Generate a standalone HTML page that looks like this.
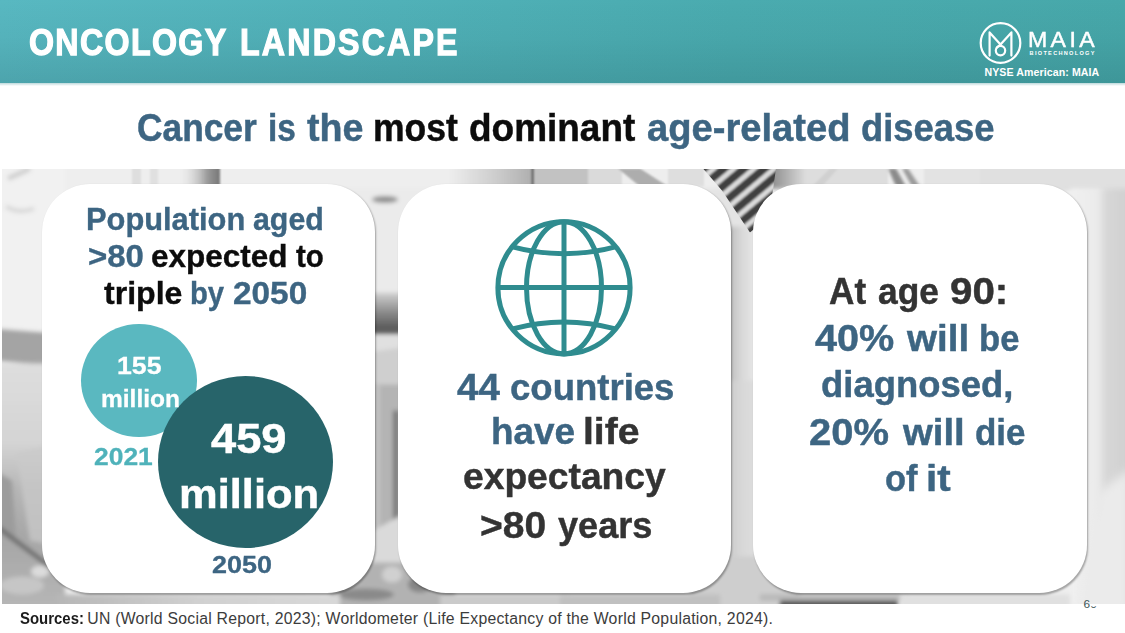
<!DOCTYPE html>
<html lang="en">
<head>
<meta charset="utf-8">
<title>Oncology Landscape</title>
<style>
html,body{margin:0;padding:0;background:#fff;}
body{width:1125px;height:633px;position:relative;overflow:hidden;font-family:"Liberation Sans",sans-serif;}
.hdr{position:absolute;left:0;top:0;width:1125px;height:82.5px;background:linear-gradient(180deg,rgba(0,30,35,0) 0%,rgba(0,30,35,.04) 45%,rgba(0,30,35,.13) 100%),linear-gradient(90deg,#58b8c1 0%,#50b1b8 35%,#4aabaf 65%,#47a8aa 100%);}
.hshadow{position:absolute;left:0;top:82.5px;width:1125px;height:3px;background:linear-gradient(180deg,rgba(90,160,165,.4),rgba(255,255,255,0));}
.photo{position:absolute;left:2px;top:168.5px;width:1123px;height:435.5px;overflow:hidden;background:#ececec;}
.card{position:absolute;top:184px;height:409px;background:#fff;border-radius:48px;box-shadow:1px 1.5px 2px rgba(0,0,0,.32);}
.t{position:absolute;white-space:nowrap;line-height:1;margin:0;}
.circ{position:absolute;border-radius:50%;}
</style>
</head>
<body>
<div class="hdr"></div>
<div class="hshadow"></div>

<div class="photo">
<svg width="1123" height="436" viewBox="2 168.5 1123 436" style="position:absolute;left:0;top:0">
<defs>
<filter id="b2" x="-20%" y="-20%" width="140%" height="140%"><feGaussianBlur stdDeviation="2"/></filter>
<filter id="b3" x="-30%" y="-30%" width="160%" height="160%"><feGaussianBlur stdDeviation="3.5"/></filter>
<filter id="b4" x="-20%" y="-20%" width="140%" height="140%"><feGaussianBlur stdDeviation="5"/></filter>
<filter id="b1" x="-20%" y="-20%" width="140%" height="140%"><feGaussianBlur stdDeviation="0.8"/></filter>
<linearGradient id="gR" x1="0" x2="1" y1="0" y2="0"><stop offset="0" stop-color="#f0f0f0"/><stop offset="0.45" stop-color="#ebebeb"/><stop offset="0.62" stop-color="#d6d6d6"/><stop offset="1" stop-color="#d0d0d0"/></linearGradient>
<linearGradient id="gM" x1="0" x2="1" y1="0" y2="0"><stop offset="0" stop-color="#b2b2b2"/><stop offset="0.5" stop-color="#d9d9d9"/><stop offset="1" stop-color="#ececec"/></linearGradient>
<linearGradient id="gL" x1="0" x2="0" y1="0" y2="1"><stop offset="0" stop-color="#dedede"/><stop offset="0.32" stop-color="#d4d4d4"/><stop offset="0.5" stop-color="#b6b6b6"/><stop offset="0.7" stop-color="#a6a6a6"/><stop offset="1" stop-color="#b8b8b8"/></linearGradient>
<linearGradient id="gT1" x1="0" x2="1" y1="0" y2="0"><stop offset="0" stop-color="#ededed"/><stop offset="0.55" stop-color="#cdcdcd"/><stop offset="1" stop-color="#aeaeae"/></linearGradient>
<linearGradient id="gT2" x1="0" x2="1" y1="0" y2="0"><stop offset="0" stop-color="#ececec" stop-opacity="0"/><stop offset="0.7" stop-color="#9a9a9a"/><stop offset="1" stop-color="#767676"/></linearGradient>
<linearGradient id="gBand" x1="0" x2="0" y1="0" y2="1"><stop offset="0" stop-color="#d2d2d2"/><stop offset="0.45" stop-color="#8e8e8e"/><stop offset="0.85" stop-color="#5a5a5a"/><stop offset="1" stop-color="#6a6a6a"/></linearGradient>
<pattern id="stripes" width="13" height="13" patternUnits="userSpaceOnUse" patternTransform="rotate(-40)"><rect width="13" height="13" fill="#404040"/><rect y="0" width="13" height="5" fill="#dcdcdc"/></pattern>
<clipPath id="tieclip"><path d="M703 168 L776 168 L772 196 L757 226 L750 232 L738 214 L722 190 Z"/></clipPath>
<linearGradient id="gB1" x1="0" x2="1" y1="0" y2="0"><stop offset="0" stop-color="#b6b6b6"/><stop offset="0.5" stop-color="#d0d0d0"/><stop offset="1" stop-color="#d8d8d8"/></linearGradient>
<linearGradient id="gT3" x1="0" x2="1" y1="0" y2="0"><stop offset="0" stop-color="#8e8e8e"/><stop offset="1" stop-color="#dddddd"/></linearGradient>
<linearGradient id="gM2" x1="0" x2="1" y1="0" y2="0"><stop offset="0" stop-color="#c6c6c6"/><stop offset="0.5" stop-color="#d8d8d8"/><stop offset="1" stop-color="#dedede"/></linearGradient>
</defs>
<rect x="0" y="160" width="1130" height="450" fill="#eeeeee"/>
<!-- left column -->
<g filter="url(#b2)">
<rect x="-5" y="160" width="70" height="170" fill="#f1f1f1"/>
<path d="M-5 328 L70 334 L70 367 L-5 360 Z" fill="#a4a4a4"/>
<rect x="-5" y="363" width="70" height="250" fill="url(#gL)"/>
<path d="M16 452 L70 440 L70 548 L30 540 Z" fill="#c9c9c9" opacity="0.75"/>
<path d="M-5 470 L12 480 L16 536 L-5 530 Z" fill="#9c9c9c"/>
<path d="M-2 527 L50 566" stroke="#707070" stroke-width="5" fill="none"/>
<ellipse cx="40" cy="571" rx="9" ry="6" fill="#dcdcdc"/>
<ellipse cx="22" cy="585" rx="22" ry="9" fill="#c6c6c6"/>
<path d="M8 178 Q22 172 30 168" stroke="#cfcfcf" stroke-width="5" fill="none"/>
<path d="M6 206 Q20 214 34 208" stroke="#d6d6d6" stroke-width="4" fill="none"/>
</g>
<!-- top strip -->
<g filter="url(#b1)">
<rect x="132" y="160" width="9" height="26" fill="#dedede"/>
<rect x="150" y="160" width="8" height="26" fill="#e0e0e0"/>
<rect x="178" y="160" width="42" height="26" fill="url(#gT2)"/>
<rect x="450" y="160" width="83" height="26" fill="url(#gT1)"/>
<rect x="531.5" y="160" width="2.5" height="26" fill="#5e5e5e"/>
<rect x="534" y="160" width="54" height="26" fill="#c2c2c2"/>
<rect x="588" y="160" width="34" height="26" fill="#dadada"/>
<path d="M618 168 L640 168 L668 186 L640 186 Z" fill="#adadad"/>
<rect x="668" y="160" width="36" height="26" fill="#dedede"/>
<rect x="776" y="160" width="112" height="26" fill="#dddddd"/>
<rect x="772" y="160" width="34" height="30" fill="url(#gT3)"/>
<path d="M812 186 L830 168 L838 168 L822 186 Z" fill="#d0d0d0"/>
<g filter="url(#b1)"><path d="M888 168 L896 168 L906 186 L896 186 Z" fill="#8a8a8a"/>
<path d="M902 168 L908 168 L920 186 L912 186 Z" fill="#9a9a9a"/></g>
<rect x="924" y="160" width="60" height="26" fill="#e3e3e3"/>
<rect x="980" y="160" width="150" height="30" fill="#e0e0e0"/>
</g>
<!-- gap 1-2 -->
<g filter="url(#b2)">
<rect x="340" y="188" width="100" height="108" fill="#ebebeb"/>
<ellipse cx="385" cy="199" rx="13" ry="3.5" fill="#8f8f8f"/>
<rect x="366" y="292" width="44" height="42" fill="url(#gBand)"/>
<rect x="366" y="335" width="44" height="50" fill="#e0e0e0"/>
<path d="M366 352 L410 346 L410 386 L366 386 Z" fill="#cfcfcf"/>
<rect x="366" y="384" width="44" height="150" fill="#b4b4b4"/>
<rect x="366" y="384" width="14" height="150" fill="#c2c2c2"/>
<rect x="393" y="410" width="6" height="112" fill="#7a7a7a"/>
<path d="M366 534 L410 510 L410 566 L366 566 Z" fill="#dadada"/>
<rect x="330" y="562" width="125" height="50" fill="#b2b2b2"/>
<ellipse cx="366" cy="594" rx="28" ry="6" fill="#8a8a8a"/>
<ellipse cx="420" cy="584" rx="12" ry="8" fill="#868686"/>
<ellipse cx="392" cy="574" rx="10" ry="8" fill="#d0d0d0"/>
</g>
<!-- gap 2-3 -->
<g filter="url(#b2)">
<rect x="690" y="188" width="110" height="60" fill="#e4e4e4"/>
<rect x="724" y="226" width="36" height="170" fill="url(#gM)"/>
<rect x="724" y="380" width="36" height="190" fill="url(#gM2)"/>
<rect x="690" y="556" width="110" height="54" fill="#cecece"/>
</g>
<g clip-path="url(#tieclip)"><rect x="690" y="160" width="100" height="90" fill="url(#stripes)" filter="url(#b1)"/></g>
<!-- right column -->
<rect x="1070" y="188" width="60" height="420" fill="url(#gR)" filter="url(#b2)"/>
<g filter="url(#b4)">
<path d="M1098 492 L1130 468 L1130 612 L1078 612 Z" fill="#ebebeb"/>
</g>
<!-- bottom strip -->
<g filter="url(#b2)">
<rect x="56" y="594" width="284" height="16" fill="url(#gB1)"/>
<rect x="440" y="594" width="130" height="16" fill="#cacaca"/>
<rect x="560" y="594" width="160" height="16" fill="#c0c0c0"/>
<rect x="760" y="594" width="150" height="6" fill="#b8b8b8"/>
<rect x="780" y="600" width="118" height="10" fill="#585858"/>
<rect x="900" y="594" width="170" height="16" fill="#e0e0e0"/>
</g>

</svg>
</div>

<div class="card" style="left:42px;width:333px"></div>
<div class="card" style="left:398px;width:333px"></div>
<div class="card" style="left:752.5px;width:334.5px"></div>

<!-- circles -->
<div class="circ" style="left:80.9px;top:324.1px;width:116px;height:113.4px;background:#5ab8c0"></div>
<div class="circ" style="left:157.5px;top:375.8px;width:175px;height:172px;background:#27646a"></div>

<!-- globe -->
<svg style="position:absolute;left:490px;top:214px" width="148" height="148" viewBox="490 214 148 148">
<g fill="none" stroke="#2f8c8f" stroke-width="5">
<circle cx="564" cy="287.8" r="66.1"/>
<ellipse cx="564" cy="287.8" rx="37.5" ry="66.1"/>
<line x1="564" y1="221.7" x2="564" y2="353.9"/>
<line x1="497.9" y1="287.5" x2="630.1" y2="287.5"/>
<path d="M512.5 246.8 Q564 260.5 615.5 246.8"/>
<path d="M512.5 328.8 Q564 315 615.5 328.8"/>
</g>
</svg>

<!-- logo -->
<svg style="position:absolute;left:975px;top:18px" width="52" height="52" viewBox="975 18 52 52">
<g fill="none" stroke="#fff" stroke-width="2.2" stroke-linecap="round" stroke-linejoin="round">
<circle cx="1000.5" cy="43" r="19.8"/>
<path d="M989.6 55.6 V32.4 L1000.5 44.5 L1011.4 32.4 V55.6"/>
<circle cx="1000.5" cy="50.6" r="4.7"/>
<path d="M1000.5 44.5 L996.8 47.6"/>
</g>
</svg>

<div id="hdr"><span class="t" style="left:28.97px;top:24.00px;font-size:37.4px;font-weight:700;letter-spacing:1.577px;color:#ffffff;-webkit-text-stroke:1.25px #ffffff;transform:scaleX(0.8600);transform-origin:0 0">ONCOLOGY</span> <span class="t" style="left:240.03px;top:24.00px;font-size:37.4px;font-weight:700;letter-spacing:2.536px;color:#ffffff;-webkit-text-stroke:1.25px #ffffff;transform:scaleX(0.8600);transform-origin:0 0">LANDSCAPE</span></div>
<div id="title"><span class="t" style="left:136.60px;top:109.00px;font-size:38.8px;font-weight:700;letter-spacing:0.000px;color:#3d6582;-webkit-text-stroke:0.47px #3d6582;transform:scaleX(0.9102);transform-origin:0 0">Cancer</span> <span class="t" style="left:268.09px;top:109.00px;font-size:38.8px;font-weight:700;letter-spacing:0.000px;color:#3d6582;-webkit-text-stroke:0.47px #3d6582;transform:scaleX(0.8601);transform-origin:0 0">is</span> <span class="t" style="left:307.04px;top:109.00px;font-size:38.8px;font-weight:700;letter-spacing:0.000px;color:#3d6582;-webkit-text-stroke:0.47px #3d6582;transform:scaleX(0.9699);transform-origin:0 0">the</span> <span class="t" style="left:373.18px;top:109.00px;font-size:38.8px;font-weight:700;letter-spacing:0.000px;color:#0c0c0c;-webkit-text-stroke:0.47px #0c0c0c;transform:scaleX(0.9162);transform-origin:0 0">most</span> <span class="t" style="left:469.06px;top:109.00px;font-size:38.8px;font-weight:700;letter-spacing:0.000px;color:#0c0c0c;-webkit-text-stroke:0.47px #0c0c0c;transform:scaleX(0.9527);transform-origin:0 0">dominant</span> <span class="t" style="left:647.48px;top:109.00px;font-size:38.8px;font-weight:700;letter-spacing:0.000px;color:#3d6582;-webkit-text-stroke:0.47px #3d6582;transform:scaleX(0.9829);transform-origin:0 0">age-related</span> <span class="t" style="left:861.28px;top:109.00px;font-size:38.8px;font-weight:700;letter-spacing:0.000px;color:#3d6582;-webkit-text-stroke:0.47px #3d6582;transform:scaleX(0.9375);transform-origin:0 0">disease</span></div>
<div id="c1a"><span class="t" style="left:86.02px;top:204.00px;font-size:31.0px;font-weight:700;letter-spacing:0.000px;color:#3d6582;-webkit-text-stroke:0.36px #3d6582;transform:scaleX(0.9942);transform-origin:0 0">Population</span> <span class="t" style="left:253.10px;top:204.00px;font-size:31.0px;font-weight:700;letter-spacing:0.000px;color:#3d6582;-webkit-text-stroke:0.36px #3d6582;transform:scaleX(0.9785);transform-origin:0 0">aged</span></div>
<div id="c1b"><span class="t" style="left:87.83px;top:241.00px;font-size:31.0px;font-weight:700;letter-spacing:0.000px;color:#3d6582;-webkit-text-stroke:0.36px #3d6582;transform:scaleX(1.0636);transform-origin:0 0">&gt;80</span> <span class="t" style="left:150.88px;top:241.00px;font-size:31.0px;font-weight:700;letter-spacing:0.000px;color:#0c0c0c;-webkit-text-stroke:0.36px #0c0c0c;transform:scaleX(1.0157);transform-origin:0 0">expected</span> <span class="t" style="left:295.64px;top:241.00px;font-size:31.0px;font-weight:700;letter-spacing:0.000px;color:#0c0c0c;-webkit-text-stroke:0.36px #0c0c0c;transform:scaleX(0.9525);transform-origin:0 0">to</span></div>
<div id="c1c"><span class="t" style="left:103.95px;top:278.00px;font-size:31.0px;font-weight:700;letter-spacing:0.000px;color:#0c0c0c;-webkit-text-stroke:0.36px #0c0c0c;transform:scaleX(1.0351);transform-origin:0 0">triple</span> <span class="t" style="left:190.41px;top:278.00px;font-size:31.0px;font-weight:700;letter-spacing:0.000px;color:#3d6582;-webkit-text-stroke:0.36px #3d6582;transform:scaleX(0.9429);transform-origin:0 0">by</span> <span class="t" style="left:233.15px;top:278.00px;font-size:31.0px;font-weight:700;letter-spacing:0.000px;color:#3d6582;-webkit-text-stroke:0.36px #3d6582;transform:scaleX(1.0765);transform-origin:0 0">2050</span></div>
<div id="s155"><span class="t" style="left:117.42px;top:354.00px;font-size:24.5px;font-weight:700;letter-spacing:0.000px;color:#ffffff;-webkit-text-stroke:0.29px #ffffff;transform:scaleX(1.0879);transform-origin:0 0">155</span></div>
<div id="smil"><span class="t" style="left:101.10px;top:387.00px;font-size:24.5px;font-weight:700;letter-spacing:0.000px;color:#ffffff;-webkit-text-stroke:0.29px #ffffff;transform:scaleX(0.9996);transform-origin:0 0">million</span></div>
<div id="y2021"><span class="t" style="left:94.39px;top:445.00px;font-size:24.3px;font-weight:700;letter-spacing:0.000px;color:#4fb2ba;-webkit-text-stroke:0.29px #4fb2ba;transform:scaleX(1.0871);transform-origin:0 0">2021</span></div>
<div id="b459"><span class="t" style="left:210.81px;top:417.00px;font-size:42.6px;font-weight:700;letter-spacing:0.000px;color:#ffffff;-webkit-text-stroke:0.49px #ffffff;transform:scaleX(1.0624);transform-origin:0 0">459</span></div>
<div id="bmil"><span class="t" style="left:178.88px;top:474.00px;font-size:41px;font-weight:700;letter-spacing:0.000px;color:#ffffff;-webkit-text-stroke:0.49px #ffffff;transform:scaleX(1.0612);transform-origin:0 0">million</span></div>
<div id="y2050"><span class="t" style="left:211.78px;top:553.00px;font-size:24.1px;font-weight:700;letter-spacing:0.000px;color:#3d6582;-webkit-text-stroke:0.29px #3d6582;transform:scaleX(1.1194);transform-origin:0 0">2050</span></div>
<div id="c2a"><span class="t" style="left:456.92px;top:369.00px;font-size:37.0px;font-weight:700;letter-spacing:0.000px;color:#3d6582;-webkit-text-stroke:0.44px #3d6582;transform:scaleX(1.0389);transform-origin:0 0">44</span> <span class="t" style="left:509.95px;top:369.00px;font-size:37.0px;font-weight:700;letter-spacing:0.000px;color:#3d6582;-webkit-text-stroke:0.44px #3d6582;transform:scaleX(0.9872);transform-origin:0 0">countries</span></div>
<div id="c2b"><span class="t" style="left:490.82px;top:413.00px;font-size:37.0px;font-weight:700;letter-spacing:0.000px;color:#3d6582;-webkit-text-stroke:0.44px #3d6582;transform:scaleX(0.9961);transform-origin:0 0">have</span> <span class="t" style="left:583.40px;top:413.00px;font-size:37.0px;font-weight:700;letter-spacing:0.000px;color:#333333;-webkit-text-stroke:0.44px #333333;transform:scaleX(1.0564);transform-origin:0 0">life</span></div>
<div id="c2c"><span class="t" style="left:463.43px;top:458.00px;font-size:37.0px;font-weight:700;letter-spacing:0.000px;color:#333333;-webkit-text-stroke:0.44px #333333;transform:scaleX(1.0057);transform-origin:0 0">expectancy</span></div>
<div id="c2d"><span class="t" style="left:480.37px;top:507.00px;font-size:37.3px;font-weight:700;letter-spacing:0.000px;color:#333333;-webkit-text-stroke:0.44px #333333;transform:scaleX(1.0447);transform-origin:0 0">&gt;80</span> <span class="t" style="left:557.74px;top:507.00px;font-size:37.3px;font-weight:700;letter-spacing:0.000px;color:#333333;-webkit-text-stroke:0.44px #333333;transform:scaleX(0.9684);transform-origin:0 0">years</span></div>
<div id="c3a"><span class="t" style="left:828.75px;top:274.00px;font-size:36.2px;font-weight:700;letter-spacing:0.000px;color:#333333;-webkit-text-stroke:0.44px #333333;transform:scaleX(0.9711);transform-origin:0 0">At</span> <span class="t" style="left:878.23px;top:274.00px;font-size:36.2px;font-weight:700;letter-spacing:0.000px;color:#333333;-webkit-text-stroke:0.44px #333333;transform:scaleX(0.9769);transform-origin:0 0">age</span> <span class="t" style="left:949.62px;top:274.00px;font-size:36.2px;font-weight:700;letter-spacing:0.000px;color:#333333;-webkit-text-stroke:0.44px #333333;transform:scaleX(1.1129);transform-origin:0 0">90:</span></div>
<div id="c3b"><span class="t" style="left:814.82px;top:321.00px;font-size:36.0px;font-weight:700;letter-spacing:0.000px;color:#3d6582;-webkit-text-stroke:0.44px #3d6582;transform:scaleX(1.0995);transform-origin:0 0">40%</span> <span class="t" style="left:907.49px;top:321.00px;font-size:36.0px;font-weight:700;letter-spacing:0.000px;color:#3d6582;-webkit-text-stroke:0.44px #3d6582;transform:scaleX(1.0708);transform-origin:0 0">will</span> <span class="t" style="left:979.32px;top:321.00px;font-size:36.0px;font-weight:700;letter-spacing:0.000px;color:#3d6582;-webkit-text-stroke:0.44px #3d6582;transform:scaleX(0.9608);transform-origin:0 0">be</span></div>
<div id="c3c"><span class="t" style="left:821.12px;top:367.00px;font-size:36.0px;font-weight:700;letter-spacing:0.000px;color:#3d6582;-webkit-text-stroke:0.44px #3d6582;transform:scaleX(1.0122);transform-origin:0 0">diagnosed,</span></div>
<div id="c3d"><span class="t" style="left:809.22px;top:415.00px;font-size:36.0px;font-weight:700;letter-spacing:0.000px;color:#3d6582;-webkit-text-stroke:0.44px #3d6582;transform:scaleX(1.1093);transform-origin:0 0">20%</span> <span class="t" style="left:902.89px;top:415.00px;font-size:36.0px;font-weight:700;letter-spacing:0.000px;color:#3d6582;-webkit-text-stroke:0.44px #3d6582;transform:scaleX(1.0637);transform-origin:0 0">will</span> <span class="t" style="left:975.06px;top:415.00px;font-size:36.0px;font-weight:700;letter-spacing:0.000px;color:#3d6582;-webkit-text-stroke:0.44px #3d6582;transform:scaleX(0.9716);transform-origin:0 0">die</span></div>
<div id="c3e"><span class="t" style="left:884.59px;top:461.00px;font-size:36.0px;font-weight:700;letter-spacing:0.000px;color:#3d6582;-webkit-text-stroke:0.44px #3d6582;transform:scaleX(0.9560);transform-origin:0 0">of</span> <span class="t" style="left:926.00px;top:461.00px;font-size:36.0px;font-weight:700;letter-spacing:0.000px;color:#3d6582;-webkit-text-stroke:0.44px #3d6582;transform:scaleX(1.1189);transform-origin:0 0">it</span></div>
<div id="nyse"><span class="t" style="left:984.49px;top:67.00px;font-size:10.6px;font-weight:700;letter-spacing:0.087px;color:#ffffff">NYSE American: MAIA</span></div>
<div id="maia"><span class="t" style="left:1027.77px;top:30.00px;font-size:21.4px;font-weight:400;letter-spacing:3.125px;color:#ffffff;-webkit-text-stroke:0.45px #ffffff;transform:scaleX(1.0800);transform-origin:0 0">MAIA</span></div>
<div id="bio"><span class="t" style="left:1029.61px;top:51.00px;font-size:5.6px;font-weight:700;letter-spacing:1.288px;color:#ffffff">BIOTECHNOLOGY</span></div>
<div id="foot1"><span class="t" style="left:20.04px;top:611.00px;font-size:15.8px;font-weight:700;letter-spacing:0.000px;color:#1c1c1c;transform:scaleX(0.9456);transform-origin:0 0">Sources:</span></div>
<div id="foot2"><span class="t" style="left:87.24px;top:611.00px;font-size:15.8px;font-weight:400;letter-spacing:0.240px;color:#3c3c3c">UN (World Social Report, 2023); Worldometer (Life Expectancy of the World Population, 2024).</span></div>

<div class="t" id="pg" style="left:1083.4px;top:599.4px;font-size:11.8px;color:#3b5557;font-weight:400;letter-spacing:0.4px">6<span style="display:inline-block;clip-path:inset(58% 0 0 0)">0</span></div>
</body>
</html>
